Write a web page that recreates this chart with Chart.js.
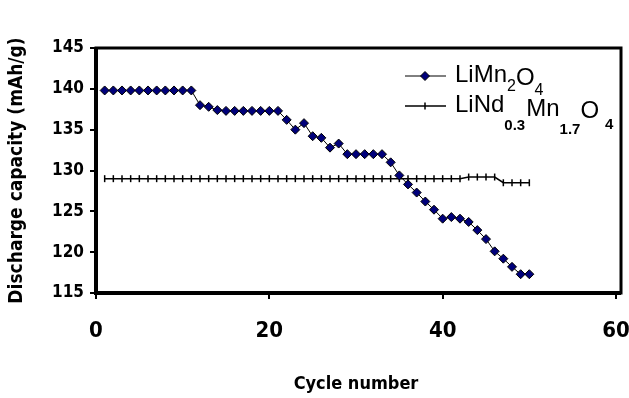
<!DOCTYPE html>
<html>
<head>
<meta charset="utf-8">
<script src="https://cdn.jsdelivr.net/npm/chart.js@4/dist/chart.umd.min.js"></script>
<style>
  html, body { margin: 0; padding: 0; background: #fff; }
  #wrap { width: 629px; height: 398px; position: relative; }
</style>
</head>
<body>
<div id="wrap"><canvas id="c" width="629" height="398"></canvas></div>
<script>
// ---- Data ----
const cycles = [1,2,3,4,5,6,7,8,9,10,11,12,13,14,15,16,17,18,19,20,21,22,23,24,25,26,27,28,29,30,31,32,33,34,35,36,37,38,39,40,41,42,43,44,45,46,47,48,49,50];
const limn2o4 = [139.8,139.8,139.8,139.8,139.8,139.8,139.8,139.8,139.8,139.8,139.8,
  138.0,137.8,137.4,137.3,137.3,137.3,137.3,137.3,137.3,137.3,
  136.2,135.0,135.8,134.2,134.0,132.8,133.3,132.0,132.0,132.0,132.0,132.0,
  131.0,129.4,128.3,127.3,126.2,125.2,124.1,124.3,124.1,123.7,122.7,121.6,120.1,119.2,118.2,117.3,117.3];
const lindmno = [129,129,129,129,129,129,129,129,129,129,129,129,129,129,129,129,129,129,129,129,
  129,129,129,129,129,129,129,129,129,129,129,129,129,129,129,129,129,129,129,129,
  129,129,129.2,129.2,129.2,129.2,128.5,128.5,128.5,128.5];
const xTicks = [0, 20, 40, 60];
const yTicks = [115, 120, 125, 130, 135, 140, 145];
const seriesNames = ["LiMn2O4", "LiNd0.3Mn1.7O4"];

const NARROW = '"Liberation Sans Narrow", "DejaVu Sans Condensed", "Arial Narrow", sans-serif';
const SANS = '"Liberation Sans", Arial, sans-serif';

const toXY = (vals) => vals.map((v, i) => ({ x: cycles[i], y: v }));

// Custom frame + legend with subscripts
const framePlugin = {
  id: 'frame',
  afterDraw(chart) {
    const { ctx, chartArea: a } = chart;
    ctx.save();
    ctx.strokeStyle = '#000';
    ctx.lineWidth = 3;
    ctx.strokeRect(a.left, a.top, a.right + 5 - a.left, a.bottom - a.top);
    ctx.lineWidth = 4;
    ctx.beginPath();
    ctx.moveTo(a.left, a.top); ctx.lineTo(a.left, a.bottom); ctx.lineTo(a.right + 5, a.bottom);
    ctx.stroke();
    ctx.restore();

    // Legend: [text, baseline offset, size, bold, gap after]
    const parts = [
      [ ['LiMn', 0, 24, false, 0], ['2', 9, 16, false, 0], ['O', 3, 24, false, 0], ['4', 13, 16, false, 0] ],
      [ ['LiNd', 0, 24, false, 0], ['0.3', 18, 15, true, 1], ['Mn', 4, 24, false, 0], ['1.7', 22, 15, true, 0], ['O', 6, 24, false, 6], ['4', 17, 15, true, 0] ]
    ];
    const rows = [{ y: 76, base: 82 }, { y: 106, base: 112 }];
    const ds = chart.data.datasets;
    rows.forEach((r, i) => {
      const d = ds[i];
      ctx.save();
      ctx.strokeStyle = '#000';
      ctx.fillStyle = d.pointBackgroundColor || '#000';
      ctx.lineWidth = d.borderWidth;
      ctx.beginPath();
      ctx.moveTo(405, r.y); ctx.lineTo(446, r.y); ctx.stroke();
      ctx.lineWidth = d.pointBorderWidth || 1;
      Chart.helpers.drawPoint(ctx, {
        pointStyle: d.pointStyle, radius: d.pointRadius, rotation: d.pointRotation || 0,
        borderWidth: d.pointBorderWidth || 1
      }, 425, r.y);
      ctx.restore();
      ctx.save();
      ctx.fillStyle = '#000';
      ctx.textBaseline = 'alphabetic';
      ctx.textAlign = 'left';
      let x = 455;
      parts[i].forEach(([t, dy, size, bold, gap]) => {
        ctx.font = (bold ? 'bold ' : '') + size + 'px ' + SANS;
        ctx.fillText(t, x, r.base + dy);
        x += ctx.measureText(t).width + gap;
      });
      ctx.restore();
    });
  }
};

const ctx = document.getElementById('c').getContext('2d');
Chart.defaults.animation = false;

new Chart(ctx, {
  type: 'line',
  data: {
    datasets: [
      {
        label: seriesNames[0],
        data: toXY(limn2o4),
        borderColor: '#000',
        borderWidth: 1,
        pointStyle: 'rectRot',
        pointRadius: 4.5,
        pointBackgroundColor: '#00007a',
        pointBorderColor: '#000',
        pointBorderWidth: 1,
        tension: 0
      },
      {
        label: seriesNames[1],
        data: toXY(lindmno),
        borderColor: '#000',
        borderWidth: 1.5,
        pointStyle: 'line',
        pointRotation: 90,
        pointRadius: 3.5,
        pointBorderColor: '#000',
        pointBorderWidth: 1.5,
        tension: 0
      }
    ]
  },
  options: {
    responsive: false,
    animation: false,
    layout: { padding: { top: 48, right: 13, left: 0, bottom: 0 } },
    plugins: { legend: { display: false }, tooltip: { enabled: false } },
    scales: {
      x: {
        type: 'linear',
        min: 0, max: 60,
        afterBuildTicks: (s) => { s.ticks = xTicks.map(v => ({ value: v })); },
        afterFit: (s) => { s.height = 105; s.paddingLeft = 0; s.paddingRight = 0; },
        grid: { display: true, drawOnChartArea: false, drawTicks: true, tickLength: 6, color: '#000', lineWidth: 2 },
        border: { display: false },
        ticks: { color: '#000', padding: 19, font: { family: NARROW, size: 22, weight: 'bold' }, maxRotation: 0 },
        title: { display: true, text: 'Cycle number', color: '#000', font: { family: NARROW, size: 18, weight: 'bold' }, padding: { top: 0, bottom: 3 } }
      },
      y: {
        min: 115, max: 145,
        afterBuildTicks: (s) => { s.ticks = yTicks.map(v => ({ value: v })); },
        afterFit: (s) => { s.width = 96; },
        grid: { display: true, drawOnChartArea: false, drawTicks: true, tickLength: 6, color: '#000', lineWidth: 2 },
        border: { display: false },
        ticks: { color: '#000', padding: 6, font: { family: NARROW, size: 17, weight: 'bold' } },
        title: { display: true, text: 'Discharge capacity (mAh/g)', color: '#000', font: { family: NARROW, size: 19, weight: 'bold' }, padding: { top: 6, bottom: 0 } }
      }
    }
  },
  plugins: [framePlugin]
});
</script>
</body>
</html>
